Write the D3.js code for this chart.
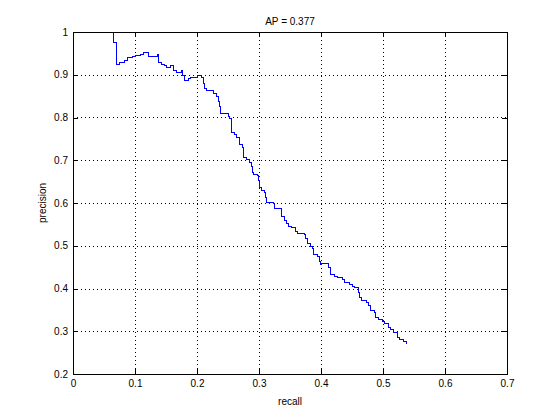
<!DOCTYPE html>
<html>
<head>
<meta charset="utf-8">
<script src="https://cdn.jsdelivr.net/npm/d3@7"></script>
<style>
  html, body { margin: 0; padding: 0; background: #fff; }
  svg { display: block; font-family: "Liberation Sans", Arial, Helvetica, sans-serif; }
</style>
</head>
<body>
<svg id="chart" width="560" height="420"></svg>
<script>
// precision / recall curve (step-after corners)
const recall = [
  0.0661, 0.0661, 0.0694, 0.0758, 0.0823, 0.0887, 0.0952, 0.1016, 0.1081, 0.1145,
  0.1177, 0.1210, 0.1363, 0.1387, 0.1427, 0.1468, 0.1516, 0.1565, 0.1613, 0.1677,
  0.1742, 0.1774, 0.1798, 0.1855, 0.1903, 0.1952, 0.2000, 0.2032, 0.2073, 0.2097,
  0.2129, 0.2161, 0.2242, 0.2274, 0.2315, 0.2339, 0.2363, 0.2387, 0.2411, 0.2500,
  0.2532, 0.2556, 0.2597, 0.2637, 0.2685, 0.2726, 0.2750, 0.2806, 0.2839, 0.2871,
  0.2895, 0.2919, 0.2968, 0.2992, 0.3008, 0.3048, 0.3081, 0.3105, 0.3129, 0.3226,
  0.3250, 0.3355, 0.3419, 0.3444, 0.3468, 0.3532, 0.3581, 0.3629, 0.3726, 0.3758,
  0.3790, 0.3823, 0.3855, 0.3871, 0.3944, 0.3968, 0.3992, 0.4016, 0.4129, 0.4153,
  0.4210, 0.4274, 0.4339, 0.4387, 0.4452, 0.4500, 0.4548, 0.4605, 0.4629, 0.4661,
  0.4726, 0.4774, 0.4806, 0.4855, 0.4887, 0.4935, 0.4984, 0.5032, 0.5081, 0.5129,
  0.5177, 0.5226, 0.5274, 0.5323, 0.5371
];
const precision = [
  1.0000, 0.9743, 0.9251, 0.9298, 0.9345, 0.9392, 0.9427, 0.9450, 0.9485, 0.9509,
  0.9532, 0.9427, 0.9485, 0.9298, 0.9240, 0.9205, 0.9158, 0.9205, 0.9111, 0.9064,
  0.9099, 0.8994, 0.8877, 0.8901, 0.8924, 0.8947, 0.8971, 0.8994, 0.8924, 0.8807,
  0.8690, 0.8620, 0.8643, 0.8573, 0.8480, 0.8363, 0.8246, 0.8082, 0.8105, 0.8012,
  0.7965, 0.7649, 0.7591, 0.7532, 0.7357, 0.7298, 0.7053, 0.7006, 0.6959, 0.6865,
  0.6725, 0.6678, 0.6632, 0.6538, 0.6351, 0.6292, 0.6234, 0.6140, 0.6012, 0.5977,
  0.5860, 0.5673, 0.5602, 0.5520, 0.5462, 0.5427, 0.5345, 0.5298, 0.5263, 0.5181,
  0.5041, 0.4994, 0.4936, 0.4784, 0.4749, 0.4620, 0.4550, 0.4585, 0.4480, 0.4316,
  0.4281, 0.4246, 0.4199, 0.4152, 0.4105, 0.4058, 0.4012, 0.3895, 0.3778, 0.3731,
  0.3673, 0.3614, 0.3497, 0.3427, 0.3310, 0.3275, 0.3228, 0.3170, 0.3088, 0.3041,
  0.2982, 0.2854, 0.2807, 0.2760, 0.2702
];

const xTicks = [0, 0.1, 0.2, 0.3, 0.4, 0.5, 0.6, 0.7];
const xTickLabels = ['0', '0.1', '0.2', '0.3', '0.4', '0.5', '0.6', '0.7'];
const yTicks = [0.2, 0.3, 0.4, 0.5, 0.6, 0.7, 0.8, 0.9, 1];
const yTickLabels = ['0.2', '0.3', '0.4', '0.5', '0.6', '0.7', '0.8', '0.9', '1'];

const titleText = 'AP = 0.377';
const xLabel = 'recall';
const yLabel = 'precision';

const svg = d3.select('#chart');
const margin = { top: 32, right: 53, bottom: 46, left: 73 };
const width = 560 - margin.left - margin.right;
const height = 420 - margin.top - margin.bottom;

const x = d3.scaleLinear().domain([0, 0.7]).range([0, width]);
const y = d3.scaleLinear().domain([0.2, 1]).range([height, 0]);

const g = svg.append('g').attr('transform', `translate(${margin.left},${margin.top})`);

// dotted grid
const grid = g.append('g')
  .attr('stroke', '#000')
  .attr('stroke-width', 1)
  .attr('stroke-dasharray', '1,3')
  .attr('shape-rendering', 'crispEdges');
grid.selectAll('line.vx')
  .data(xTicks.slice(1, -1))
  .join('line')
  .attr('x1', (d) => Math.round(x(d)) + 0.5)
  .attr('x2', (d) => Math.round(x(d)) + 0.5)
  .attr('y1', 0)
  .attr('y2', height);
grid.selectAll('line.hy')
  .data(yTicks.slice(1, -1))
  .join('line')
  .attr('class', 'hy')
  .attr('y1', (d) => Math.round(y(d)) + 0.5)
  .attr('y2', (d) => Math.round(y(d)) + 0.5)
  .attr('x1', 0)
  .attr('x2', width);

// curve
const line = d3.line()
  .x((d) => x(d[0]))
  .y((d) => y(d[1]))
  .curve(d3.curveStepAfter);
g.append('path')
  .datum(recall.map((r, i) => [r, precision[i]]))
  .attr('fill', 'none')
  .attr('stroke', '#0000ff')
  .attr('stroke-width', 1)
  .attr('shape-rendering', 'crispEdges')
  .attr('d', line);

// axes with inward ticks, MATLAB style
function styleAxis(sel) {
  sel.select('.domain').remove();
  sel.selectAll('line').attr('stroke', '#000').attr('shape-rendering', 'crispEdges');
  sel.selectAll('text').attr('fill', '#000').attr('font-size', 10);
}

g.append('g')
  .attr('transform', `translate(0,${height})`)
  .call(d3.axisBottom(x).tickValues(xTicks).tickSizeInner(-5).tickSizeOuter(0).tickPadding(6)
    .tickFormat((d, i) => xTickLabels[i]))
  .call(styleAxis);
g.append('g')
  .call(d3.axisTop(x).tickValues(xTicks).tickSizeInner(-5).tickSizeOuter(0).tickFormat(''))
  .call(styleAxis);
g.append('g')
  .call(d3.axisLeft(y).tickValues(yTicks).tickSizeInner(-5).tickSizeOuter(0).tickPadding(5)
    .tickFormat((d, i) => yTickLabels[i]))
  .call(styleAxis);
g.append('g')
  .attr('transform', `translate(${width},0)`)
  .call(d3.axisRight(y).tickValues(yTicks).tickSizeInner(-5).tickSizeOuter(0).tickFormat(''))
  .call(styleAxis);

// box
g.append('rect')
  .attr('x', 0.5)
  .attr('y', 0.5)
  .attr('width', width)
  .attr('height', height)
  .attr('fill', 'none')
  .attr('stroke', '#000')
  .attr('shape-rendering', 'crispEdges');

// labels
svg.append('text')
  .attr('x', margin.left + width / 2)
  .attr('y', 25)
  .attr('text-anchor', 'middle')
  .attr('font-size', 10)
  .text(titleText);
svg.append('text')
  .attr('x', margin.left + width / 2)
  .attr('y', 405)
  .attr('text-anchor', 'middle')
  .attr('font-size', 10)
  .text(xLabel);
svg.append('text')
  .attr('transform', `translate(46,${margin.top + height / 2}) rotate(-90)`)
  .attr('text-anchor', 'middle')
  .attr('font-size', 10)
  .text(yLabel);
</script>
</body>
</html>
